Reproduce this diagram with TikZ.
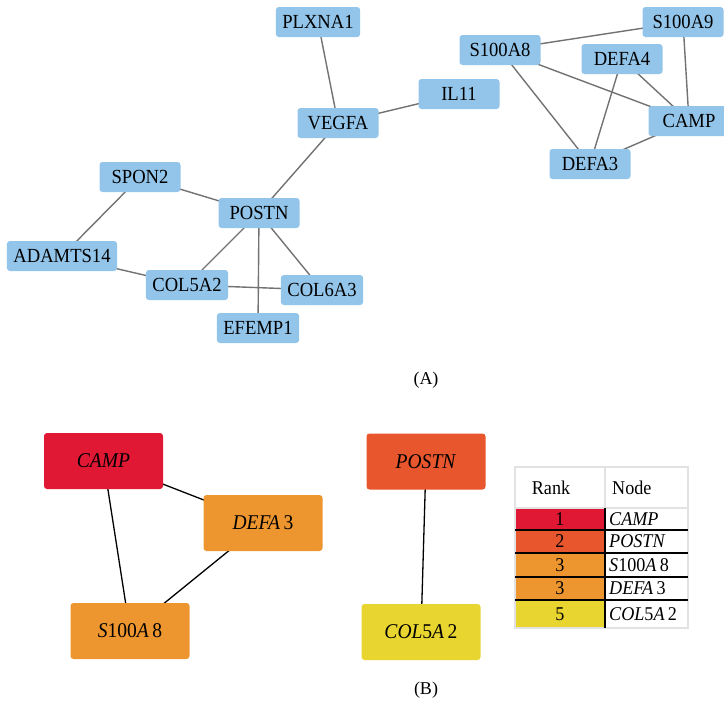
\documentclass[tikz,border=0pt]{standalone}
\usepackage{fontspec}
\setmainfont{Liberation Serif}
\newfontfamily\netfont{Liberation Serif}[FakeStretch=0.93]
\usetikzlibrary{backgrounds}
\definecolor{nodeblue}{HTML}{93C5EA}
\definecolor{edgegray}{HTML}{727272}
\definecolor{rankone}{HTML}{E01834}
\definecolor{ranktwo}{HTML}{E8562D}
\definecolor{rankthree}{HTML}{ED9630}
\definecolor{rankfive}{HTML}{E9D530}
\definecolor{gridgray}{HTML}{E2E2E2}
\begin{document}
\begin{tikzpicture}[x=1pt,y=-1pt,
  gene/.style={fill=nodeblue, rounded corners=3pt, minimum width=81pt, minimum height=30pt,
    inner xsep=6.5pt, inner ysep=0pt, font=\netfont\fontsize{20}{20}\selectfont},
  hub/.style={rounded corners=3pt, minimum width=119pt, minimum height=56pt,
    inner sep=0pt, font=\netfont\fontsize{21}{21}\selectfont},
  link/.style={draw=edgegray, line width=1.4pt},
  blink/.style={draw=black, line width=1.3pt},
  captionlabel/.style={font=\fontsize{18}{18}\selectfont},
  cell/.style={font=\netfont\fontsize{19.5}{19.5}\selectfont, inner sep=0pt},
]
\useasboundingbox (0,0) rectangle (724,702);
% ---------- (A) network ----------
\node[gene] (plxna1) at (318,22) {PLXNA1};
\node[gene] (vegfa) at (338,123) {VEGFA};
\node[gene] (il11) at (459,94) {IL11};
\node[gene] (spon2) at (140,177) {SPON2};
\node[gene] (postn) at (259,213) {POSTN};
\node[gene] (adamts) at (62,256) {ADAMTS14};
\node[gene] (col5a2) at (187,285) {COL5A2};
\node[gene] (col6a3) at (322,290) {COL6A3};
\node[gene] (efemp1) at (258,328) {EFEMP1};
\node[gene] (s100a9) at (683,22) {S100A9};
\node[gene] (s100a8) at (500,50) {S100A8};
\node[gene] (defa4) at (622,59) {DEFA4};
\node[gene] (camp) at (689,121) {CAMP};
\node[gene] (defa3) at (590,164) {DEFA3};
\begin{scope}[on background layer]
\draw[link] (plxna1.center) -- (vegfa.center);
\draw[link] (vegfa.center) -- (il11.center);
\draw[link] (vegfa.center) -- (postn.center);
\draw[link] (spon2.center) -- (postn.center);
\draw[link] (spon2.center) -- (adamts.center);
\draw[link] (adamts.center) -- (col5a2.center);
\draw[link] (postn.center) -- (col5a2.center);
\draw[link] (postn.center) -- (efemp1.center);
\draw[link] (postn.center) -- (col6a3.center);
\draw[link] (col5a2.center) -- (col6a3.center);
\draw[link] (s100a8.center) -- (s100a9.center);
\draw[link] (s100a8.center) -- (camp.center);
\draw[link] (s100a8.center) -- (defa3.center);
\draw[link] (s100a9.center) -- (camp.center);
\draw[link] (defa4.center) -- (camp.center);
\draw[link] (defa4.center) -- (defa3.center);
\draw[link] (defa3.center) -- (camp.center);
\end{scope}
\node[captionlabel] (capA) at (426,380) {(A)};
% ---------- (B) hubs ----------
\node[hub, fill=rankone] (bcamp) at (103.5,461) {\textit{CAMP}};
\node[hub, fill=rankthree] (bdefa3) at (263,523) {\textit{DEFA}\,3};
\node[hub, fill=rankthree] (bs100a8) at (130,631) {\textit{S}100\textit{A}\,8};
\node[hub, fill=ranktwo] (bpostn) at (426,461.5) {\textit{POSTN}};
\node[hub, fill=rankfive] (bcol5a2) at (421,632) {\textit{COL}5\textit{A}\,2};
\begin{scope}[on background layer]
\draw[blink] (bcamp.center) -- (bdefa3.center);
\draw[blink] (bcamp.center) -- (bs100a8.center);
\draw[blink] (bdefa3.center) -- (bs100a8.center);
\draw[blink] (bpostn.center) -- (bcol5a2.center);
\end{scope}
\node[captionlabel] (capB) at (426,690) {(B)};
% ---------- table ----------
\fill[rankone] (515,508) rectangle (605,530);
\fill[ranktwo] (515,530) rectangle (605,553);
\fill[rankthree] (515,553) rectangle (605,577);
\fill[rankthree] (515,577) rectangle (605,600);
\fill[rankfive] (515,600) rectangle (605,628);
\draw[gridgray, line width=1.2pt] (515,467) rectangle (688,628);
\draw[gridgray, line width=1.2pt] (605,467) -- (605,508);
\draw[gridgray, line width=1.2pt] (515,508) -- (688,508);
\foreach \yy in {530,553,577,600} \draw[black, line width=1.2pt] (515,\yy) -- (688,\yy);
\draw[black, line width=1.4pt] (605,508) -- (605,628);
\node[cell] (hrank) at (551,488) {Rank};
\node[cell, anchor=west] (hnode) at (612,488) {Node};
\node[cell] (r1) at (560,519) {1};
\node[cell] (r2) at (560,541.5) {2};
\node[cell] (r3) at (560,565) {3};
\node[cell] (r4) at (560,588.5) {3};
\node[cell] (r5) at (560,614) {5};
\node[cell, anchor=west] (n1) at (609,519) {\textit{CAMP}};
\node[cell, anchor=west] (n2) at (609,541.5) {\textit{POSTN}};
\node[cell, anchor=west] (n3) at (609,565) {\textit{S}100\textit{A}\,8};
\node[cell, anchor=west] (n4) at (609,588.5) {\textit{DEFA}\,3};
\node[cell, anchor=west] (n5) at (609,614) {\textit{COL}5\textit{A}\,2};
\end{tikzpicture}
\end{document}
